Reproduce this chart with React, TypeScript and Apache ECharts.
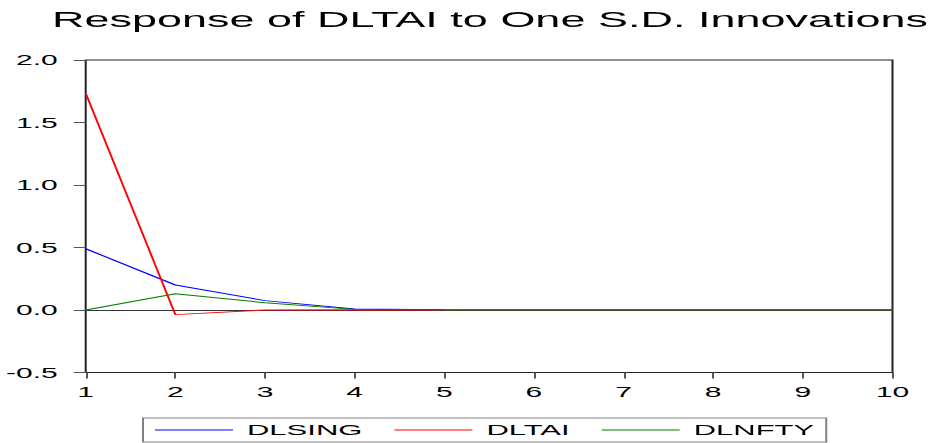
import React, { useEffect, useRef } from "react";
import * as echarts from "echarts";

const titleText = "Response of DLTAI to One S.D. Innovations";
const periods = [1, 2, 3, 4, 5, 6, 7, 8, 9, 10];
const seriesNames = ["DLSING", "DLTAI", "DLNFTY"];
const seriesColors = ["#0000ff", "#ff0000", "#008000"];
const dlsing = [0.49, 0.2, 0.075, 0.008, 0.002, 0.0, 0.0, 0.0, 0.0, 0.0];
const dltai = [1.735, -0.037, 0.0, 0.002, 0.0, 0.0, 0.0, 0.0, 0.0, 0.0];
const dlnfty = [0.0, 0.13, 0.058, 0.005, 0.001, 0.0, 0.0, 0.0, 0.0, 0.0];
const yMin = -0.5;
const yMax = 2.0;
const yInterval = 0.5;

const FONT = "'Liberation Sans', Arial, sans-serif";
const BASE_W = 466.5;
const H = 443;

export default function App() {
  const ref = useRef<HTMLDivElement>(null);
  useEffect(() => {
    if (!ref.current) return;
    const chart = echarts.init(ref.current, null, {
      renderer: "svg",
      width: BASE_W,
      height: H,
    });
    const allData = [dlsing, dltai, dlnfty];
    chart.setOption({
      animation: false,
      backgroundColor: "#ffffff",
      title: {
        text: titleText,
        left: 26,
        top: 8,
        padding: 0,
        textStyle: {
          fontFamily: FONT,
          fontSize: 22.5,
          fontWeight: "normal",
          color: "#000",
        },
      },
      grid: {
        left: 42.75,
        right: 20.25,
        top: 60,
        bottom: 70.5,
        show: true,
        borderColor: "#222",
        borderWidth: 1,
        backgroundColor: "#fff",
      },
      legend: {
        left: 71.5,
        top: 418,
        padding: [4, 6, 4, 6],
        icon: "rect",
        itemWidth: 39,
        itemHeight: 1,
        itemGap: 16,
        borderColor: "#808080",
        borderWidth: 1,
        borderRadius: 0,
        textStyle: {
          fontFamily: FONT,
          fontSize: 15.5,
          color: "#000",
          padding: [0, 0, 0, 2],
        },
        data: seriesNames,
      },
      xAxis: {
        type: "value",
        min: 1,
        max: 10,
        interval: 1,
        axisLine: { show: false, onZero: false },
        axisTick: { show: true, inside: false, length: 6, lineStyle: { color: "#555" } },
        axisLabel: {
          margin: 12,
          fontFamily: FONT,
          fontSize: 15,
          color: "#000",
        },
        splitLine: { show: false },
      },
      yAxis: {
        type: "value",
        min: yMin,
        max: yMax,
        interval: yInterval,
        axisLine: { show: false, onZero: false },
        axisTick: { show: true, inside: false, length: 6, lineStyle: { color: "#555" } },
        axisLabel: {
          margin: 14,
          fontFamily: FONT,
          fontSize: 15,
          color: "#000",
          formatter: (v: number) => v.toFixed(1),
        },
        splitLine: { show: false },
      },
      series: seriesNames.map((name, i) => ({
        name,
        type: "line",
        symbol: "none",
        showSymbol: false,
        color: seriesColors[i],
        lineStyle: { color: seriesColors[i], width: 1 },
        data: periods.map((p, j) => [p, allData[i][j]]),
        z: 3,
        markLine:
          i === 0
            ? {
                silent: true,
                symbol: "none",
                label: { show: false },
                lineStyle: { color: "#333", width: 1, type: "solid" },
                data: [{ yAxis: 0 }],
                z: 2,
              }
            : undefined,
      })),
    });
    return () => chart.dispose();
  }, []);
  return (
    <div
      style={{
        position: "absolute",
        left: 0,
        top: 0,
        width: 933,
        height: H,
        overflow: "hidden",
        background: "#fff",
      }}
    >
      <div
        ref={ref}
        style={{
          width: BASE_W,
          height: H,
          transform: "scaleX(2)",
          transformOrigin: "0 0",
        }}
      />
    </div>
  );
}
